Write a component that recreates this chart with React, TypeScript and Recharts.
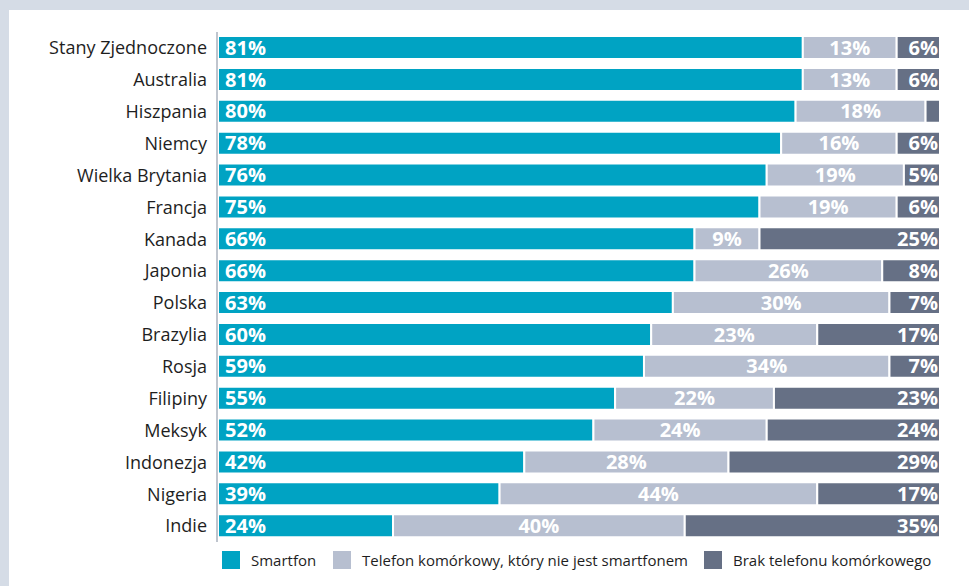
import { BarChart, Bar, XAxis, YAxis, LabelList } from "recharts";

const countries: string[] = [
  "Stany Zjednoczone",
  "Australia",
  "Hiszpania",
  "Niemcy",
  "Wielka Brytania",
  "Francja",
  "Kanada",
  "Japonia",
  "Polska",
  "Brazylia",
  "Rosja",
  "Filipiny",
  "Meksyk",
  "Indonezja",
  "Nigeria",
  "Indie",
];

const smartfon: number[] = [81, 81, 80, 78, 76, 75, 66, 66, 63, 60, 59, 55, 52, 42, 39, 24];
const telefon: number[] = [13, 13, 18, 16, 19, 19, 9, 26, 30, 23, 34, 22, 24, 28, 44, 40];
const brak: number[] = [6, 6, 2, 6, 5, 6, 25, 8, 7, 17, 7, 23, 24, 29, 17, 35];

const seriesNames: string[] = [
  "Smartfon",
  "Telefon komórkowy, który nie jest smartfonem",
  "Brak telefonu komórkowego",
];

const COLORS = ["#00a3c3", "#b7bfd0", "#667085"];
const FONT = "'Open Sans', sans-serif";

const data = countries.map((name, i) => ({
  name,
  smart: smartfon[i],
  phone: telefon[i],
  none: brak[i],
}));

// label inside each segment; tiny segments (Hiszpania 2%) get none
const makeLabel =
  (align: "left" | "center" | "right") =>
  (props: any) => {
    const { x, y, width, height, value } = props;
    if (value == null || value < 4) return null;
    let tx = x + width / 2;
    let anchor: "start" | "middle" | "end" = "middle";
    if (align === "left") {
      tx = x + 7;
      anchor = "start";
    } else if (align === "right") {
      tx = x + width - 2;
      anchor = "end";
    }
    return (
      <text
        x={tx}
        y={y + height / 2}
        dy="0.36em"
        textAnchor={anchor}
        fill="#ffffff"
        fontFamily={FONT}
        fontWeight={700}
        fontSize={20}
      >
        {value}%
      </text>
    );
  };

const legendPos = [
  { sq: 222, tx: 251 },
  { sq: 333, tx: 362 },
  { sq: 704, tx: 733 },
];

export default function App(): JSX.Element {
  return (
    <div
      style={{
        position: "absolute",
        left: 0,
        top: 0,
        width: 969,
        height: 586,
        background: "#d5dce6",
        overflow: "hidden",
      }}
    >
      <div
        style={{
          position: "absolute",
          left: 9,
          top: 10,
          width: 960,
          height: 576,
          background: "#ffffff",
        }}
      >
        <BarChart
          width={960}
          height={576}
          data={data}
          layout="vertical"
          stackOffset="expand"
          barSize={23}
          margin={{ top: 22, right: 29, left: 0, bottom: 44 }}
        >
          <XAxis type="number" hide domain={[0, 1]} padding={{ left: 1, right: 0 }} />
          <YAxis
            type="category"
            dataKey="name"
            width={208}
            tickLine={false}
            tickSize={0}
            tickMargin={10}
            axisLine={{ stroke: "#aab2be", strokeWidth: 1.5 }}
            interval={0}
            tick={{ fill: "#1e1e1e", fontSize: 18, fontFamily: FONT }}
          />
          <Bar dataKey="smart" stackId="a" fill={COLORS[0]} stroke="#ffffff" strokeWidth={2} isAnimationActive={false}>
            <LabelList dataKey="smart" content={makeLabel("left")} />
          </Bar>
          <Bar dataKey="phone" stackId="a" fill={COLORS[1]} stroke="#ffffff" strokeWidth={2} isAnimationActive={false}>
            <LabelList dataKey="phone" content={makeLabel("center")} />
          </Bar>
          <Bar dataKey="none" stackId="a" fill={COLORS[2]} stroke="#ffffff" strokeWidth={2} isAnimationActive={false}>
            <LabelList dataKey="none" content={makeLabel("right")} />
          </Bar>
        </BarChart>
      </div>
      {seriesNames.map((name, i) => (
        <div key={name}>
          <div
            style={{
              position: "absolute",
              left: legendPos[i].sq,
              top: 551,
              width: 18,
              height: 18,
              background: COLORS[i],
            }}
          />
          <div
            style={{
              position: "absolute",
              left: legendPos[i].tx,
              top: 550,
              fontFamily: FONT,
              fontSize: 15,
              lineHeight: "20px",
              color: "#1e1e1e",
              whiteSpace: "nowrap",
            }}
          >
            {name}
          </div>
        </div>
      ))}
    </div>
  );
}
